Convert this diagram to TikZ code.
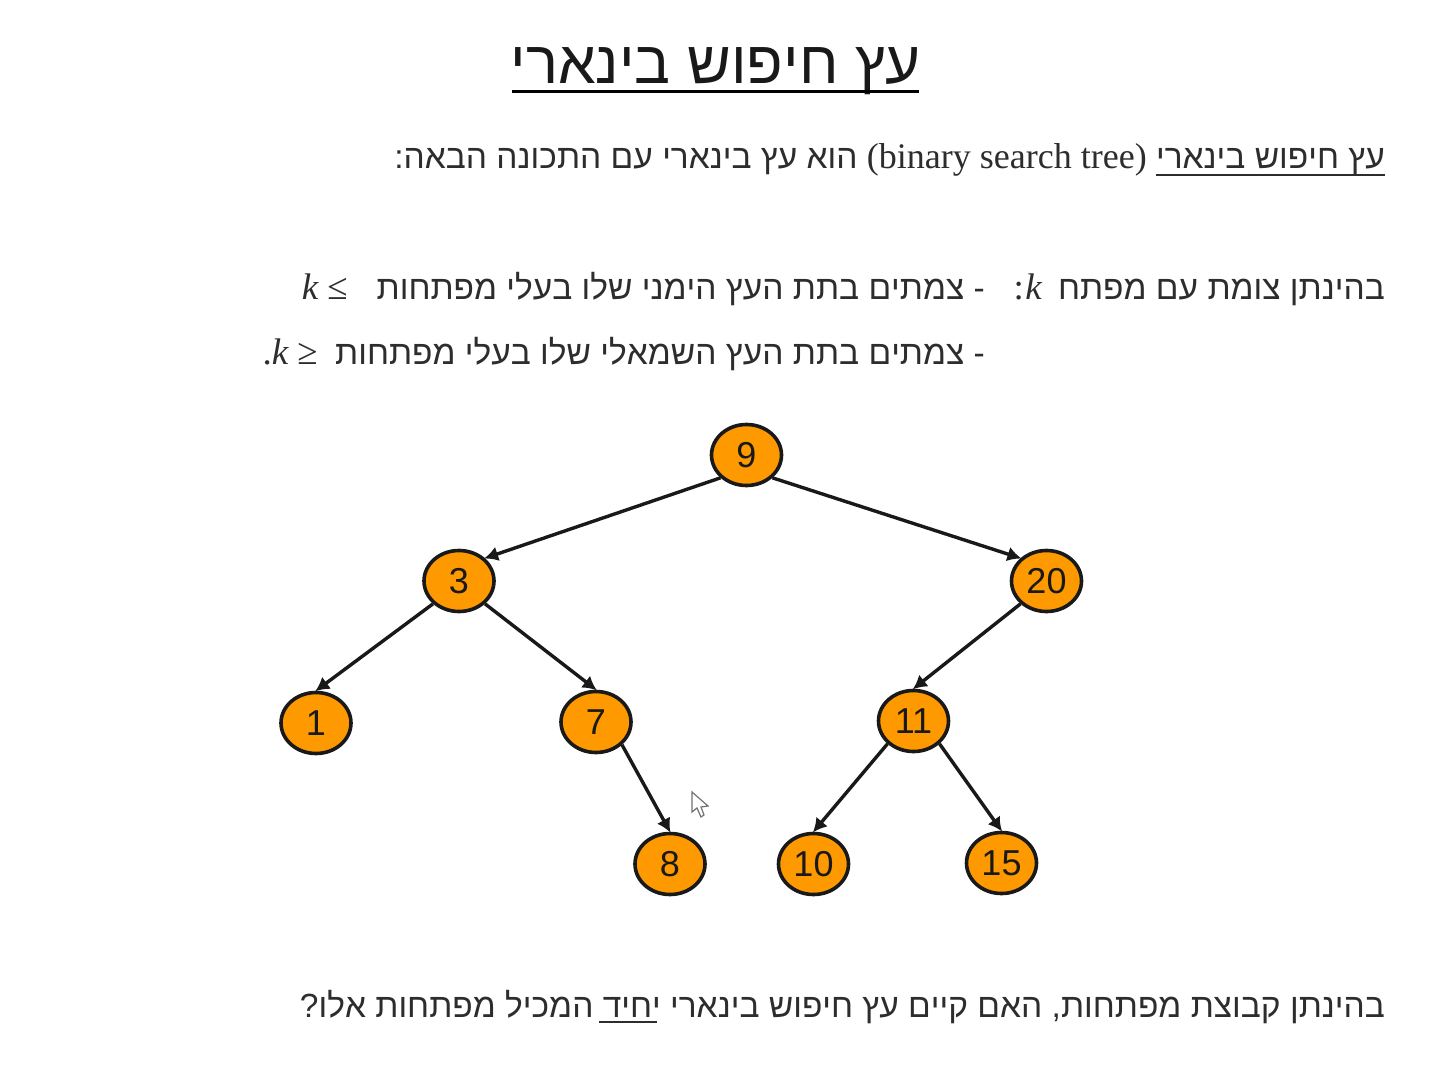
\documentclass[tikz,border=0pt]{standalone}
\usepackage{fontspec}
\setmainfont{Liberation Sans}
\newfontfamily\serifx{Liberation Serif}
\TeXXeTstate=1
\usetikzlibrary{arrows.meta,shapes.geometric}
\definecolor{nodeor}{RGB}{255,153,0}
\definecolor{txt}{RGB}{45,45,45}
\tikzset{
 keynode/.style={ellipse,draw=black!90,line width=3.6pt,fill=nodeor,minimum width=70pt,minimum height=61pt,inner sep=0pt,font=\fontsize{36}{36}\selectfont,text=black!90},
 keyedge/.style={draw=black!90,line width=3.4pt,-{Latex[length=14pt,width=15pt]},shorten >=-1pt},
 heb/.style={inner sep=0pt,text=txt,font=\fontsize{33.5}{36}\selectfont,anchor=base east},
 lat/.style={inner sep=0pt,text=txt,font=\fontsize{37}{40}\selectfont\serifx,anchor=base east}
}
\begin{document}
\begin{tikzpicture}[x=1pt,y=-1pt]
\useasboundingbox (0,0) rectangle (1435,1071);
\fill[white] (0,0) rectangle (1435,1071);
% title
\node[inner sep=0pt,anchor=base,text=black!90,font=\fontsize{60}{62}\selectfont] (title) at (715.5,83) {\beginR עץ חיפוש בינארי\endR};
\draw[black,line width=3pt] (512,91.5) -- (919,91.5);
% text lines
\node[heb] (l1) at (1385,168.5) {\beginR עץ חיפוש בינארי {\serifx\fontsize{36}{38}\selectfont\beginL(binary search tree)\endL} הוא עץ בינארי עם התכונה הבאה:\endR};
\draw[txt,line width=2.2pt] (1156,175) -- (1385,175);
\node[heb] (l2a) at (1385,299) {\beginR בהינתן צומת עם מפתח\endR};
\node[lat] (l2k) at (1042,299) {\itshape k};
\node[lat] (l2c) at (1024,299) {:};
\node[heb] (l2b) at (985,299) {\beginR - צמתים בתת העץ הימני שלו בעלי מפתחות\endR};
\node[lat] (l2r) at (348,299) {{\itshape k} ≤};
\node[heb] (l3b) at (985,364) {\beginR - צמתים בתת העץ השמאלי שלו בעלי מפתחות\endR};
\node[lat] (l3r) at (318,364) {.{\itshape k} ≥};
\node[heb] (l4) at (1385,1017) {\beginR בהינתן קבוצת מפתחות, האם קיים עץ חיפוש בינארי יחיד המכיל מפתחות אלו?\endR};
\draw[txt,line width=2.2pt] (599,1022) -- (657,1022);
% tree
\node[keynode] (n9) at (746.5,455) {9};
\node[keynode] (n3) at (459,581) {3};
\node[keynode] (n20) at (1046.5,581) {20};
\node[keynode] (n1) at (316,723) {1};
\node[keynode] (n7) at (596,722) {7};
\node[keynode] (n11) at (913.5,721) {11};
\node[keynode] (n8) at (670,864) {8};
\node[keynode] (n10) at (813.5,864) {10};
\node[keynode] (n15) at (1001.5,863) {15};
\draw[keyedge] (n9.south west) -- (n3.north east);
\draw[keyedge] (n9.south east) -- (n20.north west);
\draw[keyedge] (n3.south west) -- (n1.north);
\draw[keyedge] (n3.south east) -- (n7.north);
\draw[keyedge] (n20.south west) -- (n11.north);
\draw[keyedge] (n7.south east) -- (n8.north);
\draw[keyedge] (n11.south west) -- (n10.north);
\draw[keyedge] (n11.south east) -- (n15.north);
% cursor
\draw[black!55,fill=white,line width=1.2pt] (692,792) -- (692,812) -- (697,808) -- (701,817) -- (704,815) -- (701,807) -- (708,806) -- cycle;
\end{tikzpicture}
\end{document}
